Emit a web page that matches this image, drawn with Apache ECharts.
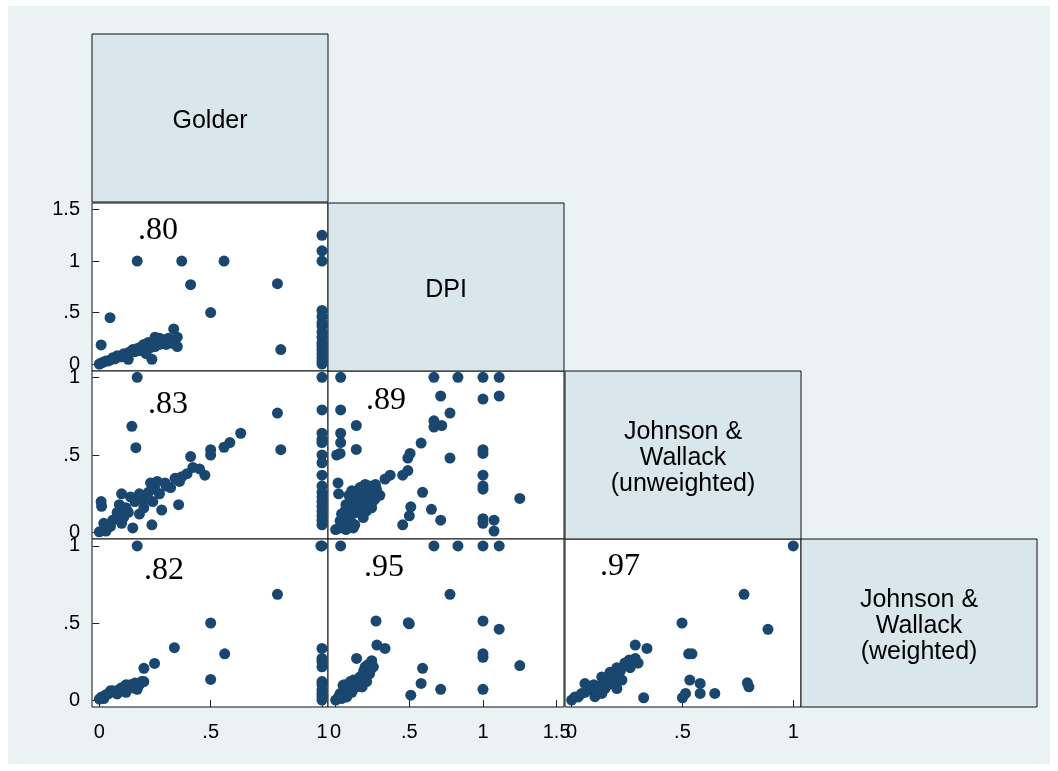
<!DOCTYPE html>
<html>
<head>
<meta charset="utf-8">
<script src="https://cdn.jsdelivr.net/npm/echarts@6/dist/echarts.min.js"></script>
<style>
html, body { margin: 0; padding: 0; background: #fff; }
#chart { width: 1058px; height: 771px; }
</style>
</head>
<body>
<div id="chart"></div>
<script>
// variable names on the diagonal
const varNames = ['Golder', 'DPI', 'Johnson &\nWallack\n(unweighted)', 'Johnson &\nWallack\n(weighted)'];
// correlations, panel order: (DPI,Golder) (JWu,Golder) (JWw,Golder) (JWu,DPI) (JWw,DPI) (JWw,JWu)
const corrs = ['.80', '.83', '.82', '.89', '.95', '.97'];

// tick values for each variable
const ticksGolder = [0, 0.5, 1];
const ticksDpi = [0, 0.5, 1, 1.5];
const ticksJwu = [0, 0.5, 1];
const ticksJww = [0, 0.5, 1];

// x = Golder, y = DPI
const dpiVsGolder = [
    [0.17, 1.0], [0.37, 1.0], [0.56, 1.0], [0.41, 0.77], [0.80, 0.78], [0.5, 0.5], [0.815, 0.14],
    [0.048, 0.45], [0.008, 0.185],
    [1, 1.25], [1, 1.1], [1, 1.0], [1, 0.52], [1, 0.46], [1, 0.4], [1, 0.37], [1, 0.31], [1, 0.26],
    [1, 0.21], [1, 0.18], [1, 0.14], [1, 0.1], [1, 0.06], [1, 0.03], [1, 0.0],
    [0, 0], [0.01, 0.01], [0.02, 0.02], [0.03, 0.03], [0.05, 0.04], [0.06, 0.06], [0.08, 0.08],
    [0.1, 0.07], [0.11, 0.1], [0.13, 0.045], [0.13, 0.11], [0.15, 0.14], [0.16, 0.12], [0.18, 0.13],
    [0.2, 0.19], [0.2, 0.15], [0.22, 0.17], [0.23, 0.16], [0.236, 0.045], [0.25, 0.26], [0.26, 0.22],
    [0.28, 0.24], [0.29, 0.2], [0.3, 0.19], [0.32, 0.22], [0.334, 0.34], [0.35, 0.26], [0.35, 0.17],
    [0.33, 0.2], [0.27, 0.25], [0.24, 0.2], [0.19, 0.17], [0.17, 0.15], [0.14, 0.12], [0.12, 0.09],
    [0.09, 0.07], [0.04, 0.03], [0.07, 0.05], [0.21, 0.1], [0.3, 0.23], [0.25, 0.17], [0.22, 0.21],
    [0.31, 0.25], [0.27, 0.19]
];

// x = Golder, y = Johnson & Wallack (unweighted)
const jwuVsGolder = [
    [0.17, 1.0], [0.146, 0.685], [0.164, 0.547], [0.80, 0.77], [0.815, 0.534], [0.635, 0.64],
    [0.586, 0.58], [0.56, 0.55], [0.5, 0.534], [0.5, 0.5], [0.41, 0.49], [0.474, 0.37], [0.45, 0.41],
    [0.394, 0.38], [0.34, 0.35], [0.295, 0.32], [0.356, 0.18], [0.28, 0.145], [0.236, 0.05],
    [0.23, 0.32], [0.26, 0.33], [0.18, 0.25], [0.10, 0.25], [0.14, 0.23], [0.09, 0.18], [0.008, 0.2],
    [0.01, 0.17], [0, 0.005], [0.03, 0.01], [0.078, 0.1], [0.13, 0.13], [0.15, 0.03], [0.2, 0.16],
    [0.24, 0.2], [0.27, 0.25], [0.32, 0.29], [0.02, 0.06], [0.11, 0.1], [0.05, 0.04], [0.06, 0.08],
    [0.12, 0.16], [0.16, 0.2], [0.2, 0.21], [0.22, 0.26], [0.25, 0.28], [0.3, 0.3], [0.36, 0.33],
    [0.42, 0.42], [0.37, 0.36], [0.18, 0.12], [0.08, 0.13], [0.1, 0.06],
    [1, 1.0], [1, 0.79], [1, 0.64], [1, 0.6], [1, 0.58], [1, 0.5], [1, 0.45], [1, 0.37], [1, 0.3],
    [1, 0.26], [1, 0.23], [1, 0.2], [1, 0.17], [1, 0.14], [1, 0.11], [1, 0.08], [1, 0.05]
];

// x = Golder, y = Johnson & Wallack (weighted)
const jwwVsGolder = [
    [0.17, 1.0], [0.80, 0.686], [0.5, 0.5], [0.337, 0.34], [0.563, 0.3], [0.5, 0.134], [0.248, 0.238],
    [0.2, 0.206], [0.2, 0.12], [0, 0.006], [0.01, 0.02], [0.03, 0.035], [0.05, 0.06], [0.06, 0.06],
    [0.08, 0.04], [0.09, 0.07], [0.1, 0.08], [0.12, 0.05], [0.13, 0.09], [0.14, 0.1], [0.16, 0.11],
    [0.17, 0.07], [0.18, 0.1], [0.15, 0.08], [0.11, 0.07], [0.07, 0.05], [0.04, 0.04], [0.02, 0.01],
    [0.19, 0.12], [0.12, 0.1],
    [0.995, 1.0], [1, 1.0], [1, 0.335], [1, 0.27], [1, 0.25], [1, 0.216], [1, 0.12], [1, 0.1],
    [1, 0.065], [1, 0.043], [1, 0.022], [1, 0.0]
];

// x = DPI, y = Johnson & Wallack (unweighted)
const jwuVsDpi = [
    [0.034, 1.0], [0.667, 1.0], [0.83, 1.0], [1.0, 1.0], [1.11, 1.0], [0.713, 0.88], [1.0, 0.86],
    [1.11, 0.88], [0.034, 0.79], [0.776, 0.77], [0.667, 0.72], [0.667, 0.68], [0.72, 0.69], [0.14, 0.69],
    [0.034, 0.64], [0.034, 0.58], [0.14, 0.536], [0.007, 0.5], [0.03, 0.51], [0.58, 0.577], [0.505, 0.51],
    [0.49, 0.48], [0.776, 0.48], [1.0, 0.534], [1.0, 0.51], [0.49, 0.4], [0.455, 0.37], [0.37, 0.37],
    [0.335, 0.345], [1.0, 0.37], [1.0, 0.3], [1.0, 0.28], [0.59, 0.26], [1.25, 0.22], [0.51, 0.166],
    [0.5, 0.108], [0.455, 0.05], [0.65, 0.15], [0.713, 0.08], [1.0, 0.09], [1.0, 0.06], [1.075, 0.08],
    [1.075, 0.01], [0.016, 0.32], [0.02, 0.25],
    [0, 0.02], [0.03, 0.076], [0.063, 0.14], [0.097, 0.205], [0.13, 0.25], [0.165, 0.29], [0.2, 0.31],
    [0.233, 0.27], [0.267, 0.216], [0.277, 0.28], [0.244, 0.16], [0.187, 0.097], [0.12, 0.03],
    [0.05, 0.05], [0.08, 0.11], [0.12, 0.18], [0.15, 0.2], [0.17, 0.25], [0.03, 0.03], [0.07, 0.02],
    [0.13, 0.05], [0.16, 0.13], [0.18, 0.17], [0.14, 0.13], [0.1, 0.14], [0.07, 0.18], [0.27, 0.31],
    [0.26, 0.26], [0.22, 0.22], [0.2, 0.19], [0.19, 0.23], [0.23, 0.3], [0.1, 0.08], [0.06, 0.1],
    [0.04, 0.12], [0.21, 0.14], [0.11, 0.27], [0.15, 0.24], [0.25, 0.2], [0.3, 0.24], [0.09, 0.24],
    [0.18, 0.29], [0.24, 0.25], [0.22, 0.18]
];

// x = DPI, y = Johnson & Wallack (weighted)
const jwwVsDpi = [
    [0.034, 1.0], [0.667, 1.0], [0.83, 1.0], [1.0, 1.0], [1.11, 1.0], [0.776, 0.686], [0.274, 0.513],
    [0.493, 0.502], [0.5, 0.495], [1.0, 0.513], [1.11, 0.46], [0.28, 0.357], [0.335, 0.335],
    [0.142, 0.27], [0.245, 0.255], [0.256, 0.216], [0.2, 0.216], [1.0, 0.3], [1.0, 0.277], [0.59, 0.206],
    [1.25, 0.224], [0.58, 0.108], [0.713, 0.07], [1.0, 0.07], [0.51, 0.032],
    [0, 0], [0.03, 0.042], [0.05, 0.096], [0.1, 0.085], [0.12, 0.13], [0.165, 0.15], [0.19, 0.19],
    [0.22, 0.23], [0.23, 0.17], [0.21, 0.12], [0.14, 0.085], [0.075, 0.02], [0.11, 0.05], [0.18, 0.085],
    [0.15, 0.12], [0.063, 0.065], [0.02, 0.02], [0.09, 0.06], [0.13, 0.1], [0.17, 0.12], [0.2, 0.15],
    [0.04, 0.01], [0.08, 0.1], [0.24, 0.2], [0.06, 0.1], [0.16, 0.09], [0.1, 0.12]
];

// x = Johnson & Wallack (unweighted), y = Johnson & Wallack (weighted)
const jwwVsJwu = [
    [1.0, 1.0], [0.778, 0.686], [0.498, 0.5], [0.886, 0.459], [0.528, 0.3], [0.543, 0.3], [0.287, 0.357],
    [0.34, 0.335], [0.533, 0.13], [0.58, 0.108], [0.58, 0.043], [0.646, 0.043], [0.514, 0.043],
    [0.5, 0.015], [0.793, 0.112], [0.8, 0.086], [0.325, 0.015],
    [0, 0], [0.03, 0.02], [0.06, 0.107], [0.075, 0.065], [0.105, 0.022], [0.113, 0.086], [0.136, 0.15],
    [0.173, 0.18], [0.204, 0.21], [0.24, 0.24], [0.264, 0.21], [0.287, 0.27], [0.3, 0.24], [0.204, 0.12],
    [0.204, 0.075], [0.227, 0.13], [0.15, 0.075], [0.136, 0.043], [0.09, 0.086], [0.045, 0.043],
    [0.015, 0.02], [0.166, 0.1], [0.12, 0.09], [0.19, 0.15], [0.06, 0.05], [0.1, 0.1], [0.15, 0.12],
    [0.22, 0.19], [0.26, 0.26], [0.25, 0.23]
];

// ---- layout ----
let cellLeft = [92, 328, 565, 801];
let cellTop = [34, 203, 371, 539];
let cellW = 236, cellH = 168;
let varTicks = [ticksGolder, ticksDpi, ticksJwu, ticksJww];
// axis extent of each variable, horizontal and vertical
let xExtent = [[-0.033, 1.027], [-0.052, 1.55], [-0.03, 1.035]];
let yExtent = [null, [-0.068, 1.564], [-0.041, 1.041], [-0.045, 1.045]];

let panels = [
    { row: 1, col: 0, data: dpiVsGolder, lx: 138, ly: 231 },
    { row: 2, col: 0, data: jwuVsGolder, lx: 148, ly: 405 },
    { row: 3, col: 0, data: jwwVsGolder, lx: 144, ly: 571 },
    { row: 2, col: 1, data: jwuVsDpi, lx: 366, ly: 401 },
    { row: 3, col: 1, data: jwwVsDpi, lx: 364, ly: 568 },
    { row: 3, col: 2, data: jwwVsJwu, lx: 600, ly: 567 }
];

let navy = '#1A476F';
let sansFont = '"Liberation Sans", Arial, Helvetica, sans-serif';

function tickText(v) {
    if (v === 0) return '0';
    return String(v).replace(/^0\./, '.');
}

let grids = [], xAxes = [], yAxes = [], series = [];
let graphics = [
    // page background with thin white frame
    { type: 'rect', z: -100, shape: { x: 8, y: 6, width: 1042, height: 758 }, style: { fill: '#EAF2F3' } }
];

// diagonal name boxes
for (let i = 0; i < 4; i++) {
    graphics.push({
        type: 'rect', z: 1,
        shape: { x: cellLeft[i], y: cellTop[i], width: cellW, height: cellH },
        style: { fill: '#D9E6EB', stroke: '#111', lineWidth: 1 }
    });
    graphics.push({
        type: 'text', z: 2,
        x: cellLeft[i] + cellW / 2, y: cellTop[i] + cellH / 2 + 3,
        style: {
            text: varNames[i], fill: '#000', font: '25px ' + sansFont,
            align: 'center', verticalAlign: 'middle', lineHeight: 26
        }
    });
}

panels.forEach(function (p, i) {
    grids.push({
        left: cellLeft[p.col], top: cellTop[p.row], width: cellW, height: cellH,
        show: true, backgroundColor: '#fff', borderColor: '#111', borderWidth: 1
    });
    let showX = p.row === 3, showY = p.col === 0;
    xAxes.push({
        gridIndex: i, type: 'value', min: xExtent[p.col][0], max: xExtent[p.col][1],
        show: showX,
        axisLine: { show: false },
        splitLine: { show: false },
        axisTick: { show: showX, length: 7, customValues: varTicks[p.col], lineStyle: { color: '#222' } },
        axisLabel: {
            show: showX, customValues: varTicks[p.col], formatter: tickText, margin: 15,
            fontSize: 20, fontFamily: sansFont, color: '#000'
        }
    });
    yAxes.push({
        gridIndex: i, type: 'value', min: yExtent[p.row][0], max: yExtent[p.row][1],
        show: showY,
        axisLine: { show: false },
        splitLine: { show: false },
        axisTick: { show: showY, length: 7, customValues: varTicks[p.row], lineStyle: { color: '#222' } },
        axisLabel: {
            show: showY, customValues: varTicks[p.row], formatter: tickText, margin: 12,
            fontSize: 20, fontFamily: sansFont, color: '#000'
        }
    });
    series.push({
        type: 'scatter', xAxisIndex: i, yAxisIndex: i, data: p.data,
        symbol: 'circle', symbolSize: 11, itemStyle: { color: navy, opacity: 1 },
        silent: true
    });
    graphics.push({
        type: 'text', z: 100, x: p.lx, y: p.ly,
        style: {
            text: corrs[i], fill: '#000', font: '32px "Liberation Serif", "Times New Roman", serif',
            align: 'left', verticalAlign: 'middle'
        }
    });
});

let chart = echarts.init(document.getElementById('chart'));
let option = {
    backgroundColor: '#fff',
    animation: false,
    grid: grids,
    xAxis: xAxes,
    yAxis: yAxes,
    series: series,
    graphic: { elements: graphics }
};
option && chart.setOption(option);
</script>
</body>
</html>
